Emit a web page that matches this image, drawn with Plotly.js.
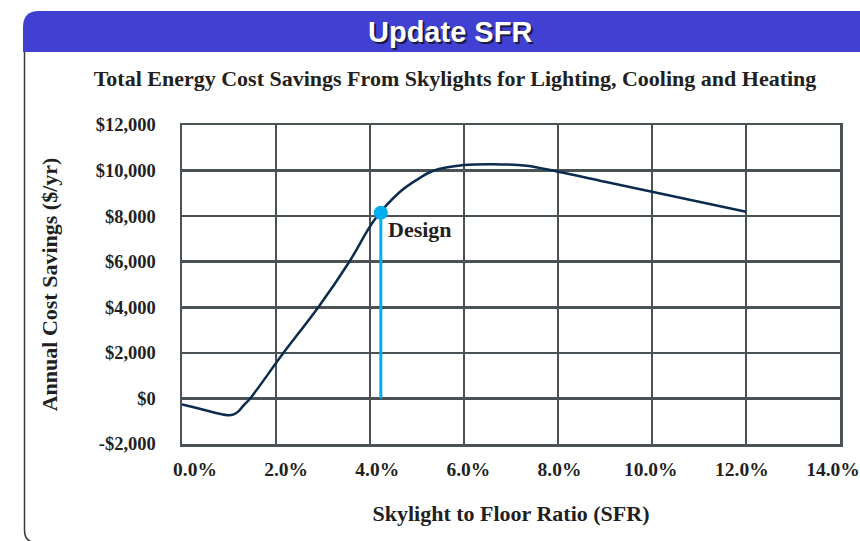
<!DOCTYPE html>
<html>
<head>
<meta charset="utf-8">
<script src="https://cdn.plot.ly/plotly-3.0.1.min.js"></script>
<style>
html,body{margin:0;padding:0;background:#fff;}
#chart{width:860px;height:541px;}
</style>
</head>
<body>
<div id="chart"></div>
<script>
// ---- data ----
const sfrPct = [0, 0.25, 0.5, 0.75, 1.0, 1.1, 1.2, 1.3, 1.45, 2.16, 2.9, 3.56, 4.1, 4.64, 5.0, 5.35, 6.0, 6.62, 7.33, 8.0, 9.0, 10.0, 11.0, 12.0];
const savings = [-260, -390, -520, -650, -740, -700, -570, -330, 0, 2000, 4000, 6000, 7850, 9070, 9600, 9990, 10240, 10280, 10210, 9950, 9510, 9070, 8630, 8190];
const designSfr = [4.23, 4.23];
const designVal = [0, 8150];
const designLabel = "Design";
const xTickVals = [0, 2, 4, 6, 8, 10, 12, 14];
const xTickText = ["0.0%", "2.0%", "4.0%", "6.0%", "8.0%", "10.0%", "12.0%", "14.0%"];
const yTickVals = [-2000, 0, 2000, 4000, 6000, 8000, 10000, 12000];
const yTickText = ["-$2,000", "$0", "$2,000", "$4,000", "$6,000", "$8,000", "$10,000", "$12,000"];
const headerText = "Update SFR";
const chartTitle = "Total Energy Cost Savings From Skylights for Lighting, Cooling and Heating";
const xTitle = "Skylight to Floor Ratio (SFR)";
const yTitle = "Annual Cost Savings ($/yr)";

// ---- layout helpers (pixel -> paper) ----
const W = 860, H = 541, ML = 182, MR = 20, MT = 125, MB = 97;
const PW = W - ML - MR, PH = H - MT - MB;
const px = x => ((x - ML) / PW).toFixed(5);
const py = y => ((H - MB - y) / PH).toFixed(5);
const P = (x, y) => px(x) + "," + py(y);

const serif = "Liberation Serif, Times New Roman, serif";
const grid = "#4b5256";

const traces = [
  {
    x: sfrPct, y: savings, type: "scatter", mode: "lines",
    line: {color: "#0b2c4e", width: 2.5, shape: "spline", smoothing: 1},
    hoverinfo: "skip", showlegend: false
  },
  {
    x: designSfr, y: designVal, type: "scatter", mode: "lines",
    line: {color: "#00aeef", width: 3},
    hoverinfo: "skip", showlegend: false
  },
  {
    x: [designSfr[1]], y: [designVal[1]], type: "scatter", mode: "markers",
    marker: {color: "#00aeef", size: 14},
    hoverinfo: "skip", showlegend: false
  },
  // carrier for the tick-label axis (the printed labels sit on a slightly narrower scale)
  {
    x: xTickVals, y: xTickVals.map(() => 0), xaxis: "x2", yaxis: "y",
    type: "scatter", mode: "markers", marker: {opacity: 0, size: 1},
    hoverinfo: "skip", showlegend: false
  }
];

const layout = {
  width: W, height: H,
  margin: {l: ML, r: MR, t: MT, b: MB, pad: 0},
  paper_bgcolor: "#ffffff", plot_bgcolor: "#ffffff",
  showlegend: false,
  title: {
    text: "<b>" + chartTitle + "</b>",
    font: {family: serif, size: 22, color: "#231f20"},
    x: 455 / W, xanchor: "center", xref: "container",
    y: (H - 78) / H, yanchor: "middle", yref: "container"
  },
  xaxis: {
    range: [0, 14], tickvals: xTickVals, showticklabels: false,
    showgrid: true, gridcolor: grid, gridwidth: 2.5,
    showline: true, linecolor: grid, linewidth: 2.5, mirror: true,
    zeroline: false, ticks: "",
    fixedrange: true
  },
  xaxis2: {
    overlaying: "x", side: "bottom", range: [-0.285, 14.154],
    tickvals: xTickVals, ticktext: xTickText,
    showgrid: false, showline: false, zeroline: false, ticks: "",
    ticklabelstandoff: 11, ticklabeloverflow: "allow",
    tickfont: {family: serif, size: 19.5, color: "#231f20", weight: "bold"},
    title: {text: "<b>" + xTitle + "</b>", standoff: 27,
            font: {family: serif, size: 22, color: "#231f20"}},
    fixedrange: true
  },
  yaxis: {
    range: [-2000, 12000], tickvals: yTickVals, ticktext: yTickText,
    showgrid: true, gridcolor: grid, gridwidth: 2.5,
    showline: true, linecolor: grid, linewidth: 2.5, mirror: true,
    zeroline: false, ticks: "", ticklabelstandoff: 20,
    tickfont: {family: serif, size: 18.5, color: "#231f20", weight: "bold"},
    title: {text: "<b>" + yTitle + "</b>", standoff: 32,
            font: {family: serif, size: 22, color: "#231f20"}},
    fixedrange: true
  },
  shapes: [
    {
      type: "path", xref: "paper", yref: "paper", layer: "below",
      path: "M" + P(23, 52) + " L" + P(23, 27) + " Q" + P(23, 11) + " " + P(39, 11) +
            " L" + P(865, 11) + " L" + P(865, 52) + " Z",
      fillcolor: "#4040d2", line: {width: 0}
    },
    {
      type: "path", xref: "paper", yref: "paper", layer: "below",
      path: "M" + P(24.5, 52) + " L" + P(24.5, 530) + " Q" + P(24.5, 540) + " " + P(32, 542),
      line: {color: "#3a3a3a", width: 1.5}
    }
  ],
  annotations: [
    {
      text: "<b>" + headerText + "</b>", xref: "paper", yref: "paper",
      x: px(450), y: py(32), xanchor: "center", yanchor: "middle", showarrow: false,
      font: {family: "Liberation Sans, Arial, sans-serif", size: 29, color: "#ffffff",
             shadow: "2px 2px 0px #1a1a40"}
    },
    {
      text: "<b>" + designLabel + "</b>", x: designSfr[1], y: designVal[1],
      xref: "x", yref: "y", xanchor: "left", yanchor: "middle", showarrow: false,
      xshift: 5, yshift: -17,
      font: {family: serif, size: 22, color: "#231f20"}
    }
  ]
};

Plotly.newPlot("chart", traces, layout, {displayModeBar: false, staticPlot: true});
</script>
</body>
</html>
